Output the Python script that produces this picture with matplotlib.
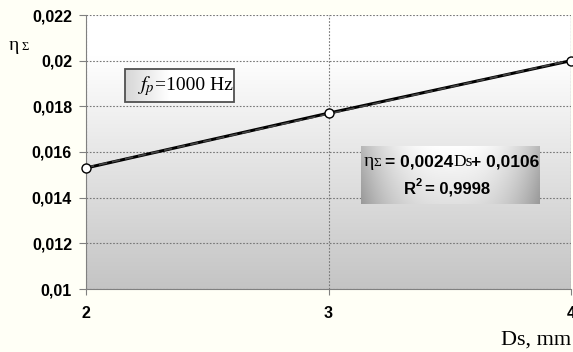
import numpy as np
import matplotlib.pyplot as plt
from matplotlib.patches import Rectangle

ds = [2, 3, 4]
eta = [0.0153, 0.0177, 0.0200]
y_ticks = [0.01, 0.012, 0.014, 0.016, 0.018, 0.02, 0.022]
y_labels = ["0,01", "0,012", "0,014", "0,016", "0,018", "0,02", "0,022"]
x_ticks = [2, 3, 4]

plt.rcParams["mathtext.fontset"] = "stix"

W, H = 573, 352
fig = plt.figure(figsize=(W / 100, H / 100), dpi=100)
fig.patch.set_facecolor("#fffff6")
ax = fig.add_axes([86 / W, 1 - 289 / H, (571 - 86) / W, (289 - 15) / H])

# plot area gradient: white at top, gray at bottom
t = np.linspace(0, 1, 256)
v = np.where(t < 0.15, 1.0, 1.0 - 0.23 * (t - 0.15) / 0.85)
grad = np.dstack([v, v, v]).reshape(-1, 1, 3)
ax.imshow(grad, extent=[2, 4, 0.01, 0.022], aspect="auto", origin="upper", zorder=0)

ax.set_xlim(2, 4)
ax.set_ylim(0.01, 0.022)
ax.set_yticks(y_ticks)
ax.set_yticklabels(y_labels, fontsize=11.5, fontweight="bold", family="Liberation Sans")
ax.set_xticks(x_ticks)
ax.set_xticklabels([str(x) for x in x_ticks], fontsize=11.5, fontweight="bold",
                   family="Liberation Sans")
ax.tick_params(axis="y", direction="out", length=5, color="#808080", pad=5)
ax.tick_params(axis="x", direction="out", length=4, color="#808080", pad=8)
ax.grid(True, color="#777777", linestyle=(0, (1.5, 1.5)), linewidth=0.8)
for s in ["top", "right"]:
    ax.spines[s].set_visible(False)
for s in ["left", "bottom"]:
    ax.spines[s].set_color("#808080")
ax.axvline(4, color="#808080", linewidth=0.8)

coef = np.polyfit(ds, eta, 1)
xs = np.array([ds[0], ds[-1]])
ax.plot(ds, eta, color="black", linewidth=2.2, zorder=3)
ax.plot(xs, np.polyval(coef, xs), color="#444444", linewidth=1.2,
        linestyle=(0, (5, 3)), zorder=4)
ax.plot(ds, eta, linestyle="none", marker="o", markersize=6.5,
        markerfacecolor="white", markeredgecolor="black", markeredgewidth=1,
        zorder=5, clip_on=False)

serif = "Liberation Serif"
sans = "Liberation Sans"
fig.text(9 / W, 1 - 46 / H, "η", fontsize=14, family=serif, va="center")
fig.text(21 / W, 1 - 47 / H, "Σ", fontsize=9, family=serif, va="center")
fig.text(501 / W, 1 - 340 / H, "Ds, mm", fontsize=16, family=serif, va="center")


def gradient_box(x0, y0, x1, y1, img):
    bax = fig.add_axes([x0 / W, 1 - y1 / H, (x1 - x0) / W, (y1 - y0) / H])
    bax.imshow(img, aspect="auto", extent=[0, 1, 0, 1], origin="upper")
    bax.set_xlim(0, 1)
    bax.set_ylim(0, 1)
    bax.axis("off")
    return bax


# fp box: gray on the left fading to white
gx = np.linspace(0, 1, 200)
gv = np.clip(0.84 + 0.16 * gx / 0.4, 0, 1)
gv[gx > 0.45] = 1.0
img = np.dstack([gv, gv, gv]).reshape(1, -1, 3).repeat(20, axis=0)
gradient_box(125, 69, 234, 102, img)
fig.patches.append(Rectangle((125 / W, 1 - 102 / H), 109 / W, 33 / H,
                             transform=fig.transFigure, fill=False,
                             edgecolor="#505050", linewidth=1.3, zorder=10))
fig.text(137 / W, 1 - 86 / H, r"$f_p$", fontsize=15, va="center", zorder=11)
fig.text(155 / W, 1 - 85 / H, "=1000 Hz", fontsize=14, family=serif,
         va="center", zorder=11)

# equation box: gray edges, lighter centre, darker towards bottom
ex = np.linspace(-1, 1, 200)
ey = np.linspace(0, 1, 60).reshape(-1, 1)
ev = 1.0 - 0.28 * np.abs(ex) ** 2.5 - 0.12 * ey
ev = np.clip(ev, 0, 1)
img2 = np.dstack([ev, ev, ev])
gradient_box(361, 146, 540, 204, img2)

y1 = 1 - 162 / H
fig.text(364 / W, y1, "η", fontsize=14, family=serif, va="center", zorder=11)
fig.text(373 / W, y1 - 0.004, "Σ", fontsize=9.5, family=serif, va="center", zorder=11)
fig.text(385 / W, y1, "= 0,0024", fontsize=12.5, fontweight="bold", family=sans,
         va="center", zorder=11)
fig.text(453 / W, y1, "Ds", fontsize=12.5, family=serif, va="center", zorder=11)
fig.text(471 / W, y1, "+ 0,0106", fontsize=12.5, fontweight="bold", family=sans,
         va="center", zorder=11)
y2 = 1 - 189 / H
fig.text(404 / W, y2, "R", fontsize=12, fontweight="bold", family=sans,
         va="center", zorder=11)
fig.text(416 / W, y2 + 0.017, "2", fontsize=8, fontweight="bold", family=sans,
         va="center", zorder=11)
fig.text(425 / W, y2, "= 0,9998", fontsize=12, fontweight="bold", family=sans,
         va="center", zorder=11)

fig.savefig("out.png", dpi=100, facecolor=fig.get_facecolor())
